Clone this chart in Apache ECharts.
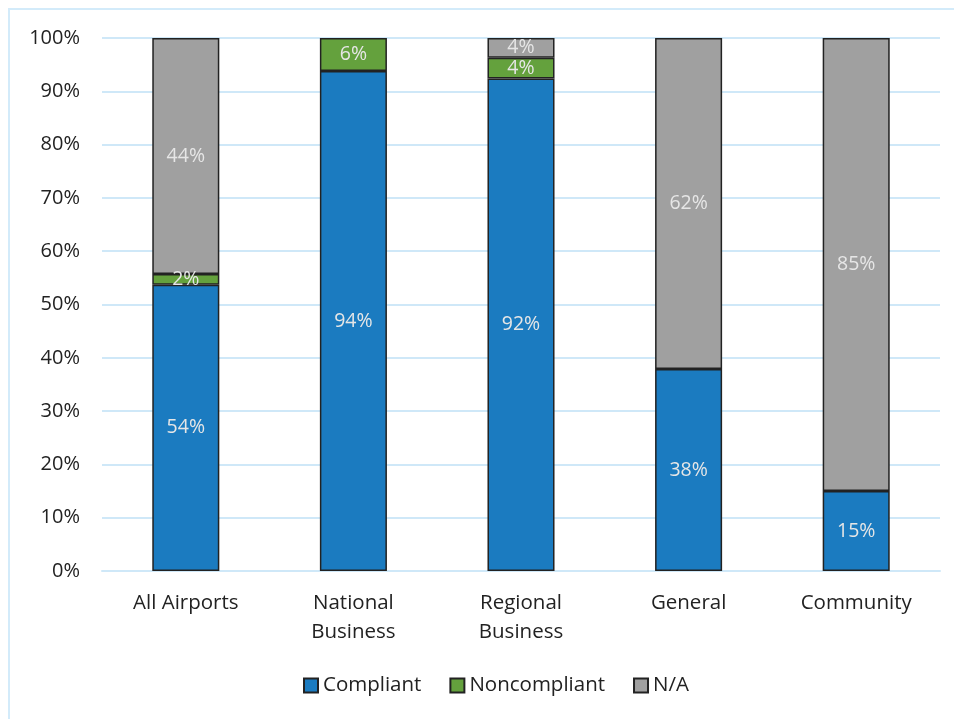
<!DOCTYPE html>
<html>
<head>
<meta charset="utf-8">
<script src="https://cdn.jsdelivr.net/npm/echarts@6/dist/echarts.min.js"></script>
<style>
html,body{margin:0;padding:0;background:#fff;}
#frame{position:absolute;left:8px;top:8px;width:950px;height:720px;border:2px solid #d3ebfa;box-sizing:border-box;}
#graph{position:absolute;left:0;top:0;width:954px;height:719px;}
</style>
</head>
<body>
<div id="frame"></div>
<div id="graph"></div>
<script>
var categories = ['All Airports', 'National\nBusiness', 'Regional\nBusiness', 'General', 'Community'];
var compliant = [53.7, 93.8, 92.4, 37.9, 15.0];
var noncompliant = [2.0, 6.2, 3.9, 0, 0];
var notApplicable = [44.3, 0, 3.7, 62.1, 85.0];
var yTicks = [0, 10, 20, 30, 40, 50, 60, 70, 80, 90, 100];

var font = '"Open Sans", "Noto Sans", sans-serif';

function toData(arr) {
    // 0 值不画
    return arr.map(function (v) { return v === 0 ? '-' : v; });
}

function makeSeries(name, arr, color) {
    return {
        name: name,
        type: 'bar',
        stack: 'total',
        barWidth: '40%',
        data: toData(arr),
        itemStyle: {color: color, borderColor: '#222', borderWidth: 1.5},
        label: {
            show: true,
            position: 'inside',
            color: '#e6e6e6',
            fontFamily: font,
            fontSize: 19.5,
            formatter: function (p) { return Math.round(p.value) + '%'; }
        }
    };
}

var chart = echarts.init(document.getElementById('graph'));
chart.setOption({
    animation: false,
    grid: {left: 102, right: 14, top: 38, bottom: 148},
    legend: {
        bottom: 18,
        left: 298,
        itemWidth: 14,
        itemHeight: 14,
        itemGap: 28,
        icon: 'rect',
        textStyle: {fontFamily: font, fontSize: 20.5, color: '#222'},
        data: ['Compliant', 'Noncompliant', 'N/A']
    },
    xAxis: {
        type: 'category',
        data: categories,
        axisLine: {lineStyle: {color: '#cfe8f8', width: 2}},
        axisTick: {show: false},
        axisLabel: {fontFamily: font, fontSize: 20.5, color: '#222', margin: 18, lineHeight: 29}
    },
    yAxis: {
        type: 'value',
        min: yTicks[0],
        max: yTicks[yTicks.length - 1],
        interval: 10,
        axisLine: {show: false},
        axisTick: {show: false},
        splitLine: {lineStyle: {color: '#cfe8f8', width: 2}},
        axisLabel: {fontFamily: font, fontSize: 20, color: '#222', margin: 22, formatter: '{value}%'}
    },
    series: [
        makeSeries('Compliant', compliant, '#1b7bc0'),
        makeSeries('Noncompliant', noncompliant, '#64a13d'),
        makeSeries('N/A', notApplicable, '#a0a0a0')
    ]
});
</script>
</body>
</html>
